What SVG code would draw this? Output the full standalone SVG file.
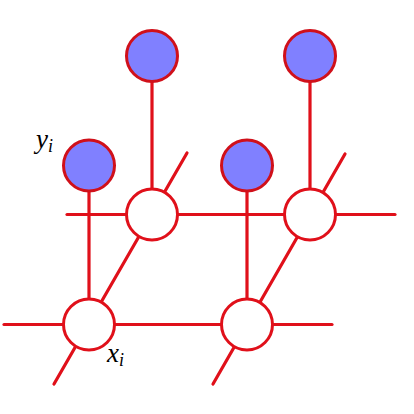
<svg xmlns="http://www.w3.org/2000/svg" width="414" height="414" viewBox="0 0 414 414">
<style>
.e{stroke:#e0101a;stroke-width:3.2;fill:none;stroke-linecap:round}
.obs{fill:#8080ff;stroke:#d0101a;stroke-width:3}
.hid{fill:#ffffff;stroke:#e0101a;stroke-width:3}
.lbl{font-family:"Liberation Serif","DejaVu Serif",serif;font-style:italic;fill:#000}
</style>
<rect width="414" height="414" fill="#fff"/>
<g id="connectors">
<line class="e" x1="67" y1="214.5" x2="395" y2="214.5"/>
<line class="e" x1="4" y1="324.5" x2="332" y2="324.5"/>
<line class="e" x1="152" y1="56" x2="152" y2="214.5"/>
<line class="e" x1="310" y1="56" x2="310" y2="214.5"/>
<line class="e" x1="89" y1="165.5" x2="89" y2="324.5"/>
<line class="e" x1="247" y1="165.5" x2="247" y2="324.5"/>
<line class="e" x1="54" y1="384" x2="187" y2="153"/>
<line class="e" x1="213" y1="384" x2="345" y2="154"/>
</g>
<g id="y_top1"><circle class="obs" cx="152" cy="56" r="25.5"/></g>
<g id="y_top2"><circle class="obs" cx="310" cy="56" r="25.5"/></g>
<g id="y_i"><circle class="obs" cx="89" cy="165.5" r="25.5"/></g>
<g id="y_mid"><circle class="obs" cx="247" cy="165.5" r="25.5"/></g>
<g id="x_up1"><circle class="hid" cx="152" cy="214.5" r="25.5"/></g>
<g id="x_up2"><circle class="hid" cx="310" cy="214.5" r="25.5"/></g>
<g id="x_i"><circle class="hid" cx="89" cy="324.5" r="25.5"/></g>
<g id="x_low2"><circle class="hid" cx="247" cy="324.5" r="25.5"/></g>
<g id="labels">
<text class="lbl" x="36" y="148" font-size="27">y<tspan font-size="18" dy="4">i</tspan></text>
<text class="lbl" x="107" y="362" font-size="27">x<tspan font-size="18" dy="4">i</tspan></text>
</g>
</svg>
